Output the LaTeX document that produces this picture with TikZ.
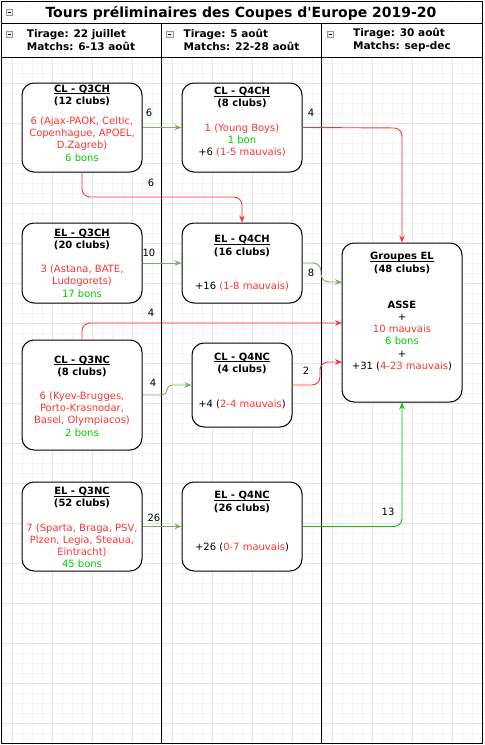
\documentclass[tikz,border=0pt]{standalone}
\usepackage{fontspec}
\setmainfont{DejaVu Sans}[Ligatures=TeXOff]
\usetikzlibrary{arrows.meta,calc}
\definecolor{rd}{HTML}{FF3333}
\definecolor{gn}{HTML}{00CC00}
\definecolor{olv}{HTML}{7FAE5E}
\definecolor{gridminor}{HTML}{F5F5F5}
\definecolor{gridmajor}{HTML}{E6E6E6}
\definecolor{icon}{HTML}{9A9A9A}
\newcommand\boxhead[1]{\setbox0\hbox{\bfseries #1}\rlap{\rule[-1.6pt]{\wd0}{0.7pt}}\box0}
\tikzset{
  box/.style={draw=black, line width=1pt, rounded corners=12pt, fill=white, inner sep=0pt},
  txt/.style={align=center, font=\fontsize{10}{12.2}\selectfont, inner sep=0pt},
  lab/.style={font=\fontsize{10}{11}\selectfont, inner sep=0pt},
  arr/.style={line width=0.9pt, -{Stealth[length=7pt,width=5.5pt]}, rounded corners=8pt},
  hdr/.style={align=left, font=\bfseries\fontsize{10.5}{13}\selectfont, inner sep=0pt},
  frame/.style={draw=black, line width=1pt},
}
\begin{document}
\begin{tikzpicture}[x=1pt,y=-1pt]
\useasboundingbox (0,0) rectangle (485,745);
\fill[white] (0,0) rectangle (485,745);
% grid
\foreach \x in {2,12,...,482} \draw[gridminor, line width=0.8pt] (\x,0) -- (\x,745);
\foreach \y in {3,13,...,743} \draw[gridminor, line width=0.8pt] (0,\y) -- (485,\y);
\foreach \x in {12,52,...,452} \draw[gridmajor, line width=0.8pt] (\x,0) -- (\x,745);
\foreach \y in {3,43,...,743} \draw[gridmajor, line width=0.8pt] (0,\y) -- (485,\y);
% header areas
\fill[white] (1.5,1.5) rectangle (482.5,57);
\draw[frame] (1.5,1.5) rectangle (482.5,743.5);
\draw[frame] (1.5,23) -- (482.5,23);
\draw[frame] (1.5,57) -- (482.5,57);
\draw[frame] (161.5,23) -- (161.5,743.5);
\draw[frame] (321.5,23) -- (321.5,743.5);
% collapse icons
\foreach \ix/\iy in {6/9, 6/31, 166.5/31, 327/31}{
  \draw[icon, fill=gray!12, line width=0.6pt] (\ix,\iy) rectangle ++(6.5,6.5);
  \draw[black, line width=0.8pt] (\ix+1.6,\iy+3.25) -- ++(3.3,0);
}
% title and headers
\node[font=\bfseries\fontsize{14}{16}\selectfont, inner sep=0pt] (title) at (241,13.5) {Tours préliminaires des Coupes d'Europe 2019-20};
\node[hdr] (h1) at (81,40) {Tirage: 22 juillet\\Matchs: 6-13 août};
\node[hdr] (h2) at (241.5,40) {Tirage: 5 août\\Matchs: 22-28 août};
\node[hdr] (h3) at (402,40) {Tirage: 30 août\\Matchs: sep-dec};
% boxes
\node[box, minimum width=120pt, minimum height=89pt] (clq3ch) at (82,127.5) {};
\node[box, minimum width=120pt, minimum height=89pt] (clq4ch) at (242,127.5) {};
\node[box, minimum width=120pt, minimum height=80pt] (elq3ch) at (82,263) {};
\node[box, minimum width=120pt, minimum height=80pt] (elq4ch) at (242,263) {};
\node[box, minimum width=120pt, minimum height=110pt] (clq3nc) at (82,395) {};
\node[box, minimum width=100pt, minimum height=84pt] (clq4nc) at (242,385) {};
\node[box, minimum width=120pt, minimum height=89pt] (elq3nc) at (82,526.5) {};
\node[box, minimum width=120pt, minimum height=89pt] (elq4nc) at (242,526.5) {};
\node[box, minimum width=120pt, minimum height=159pt] (grp) at (402,322.5) {};
% box texts
\node[txt] (t1) at (82,123) {\boxhead{CL - Q3CH}\\\textbf{(12 clubs)}\\[8pt]\textcolor{rd}{6 (Ajax-PAOK, Celtic,}\\\textcolor{rd}{Copenhague, APOEL,}\\\textcolor{rd}{D.Zagreb)}\\\textcolor{gn}{6 bons}};
\node[txt] (t2) at (242,122) {\boxhead{CL - Q4CH}\\\textbf{(8 clubs)}\\[12pt]\textcolor{rd}{1 (Young Boys)}\\\textcolor{gn}{1 bon}\\+6 \textcolor{rd}{(1-5 mauvais)}};
\node[txt] (t3) at (82,263) {\boxhead{EL - Q3CH}\\\textbf{(20 clubs)}\\[12pt]\textcolor{rd}{3 (Astana, BATE,}\\\textcolor{rd}{Ludogorets)}\\\textcolor{gn}{17 bons}};
\node[txt] (t4) at (242,263) {\boxhead{EL - Q4CH}\\\textbf{(16 clubs)}\\[22pt]+16 \textcolor{rd}{(1-8 mauvais)}};
\node[txt] (t5) at (82,396) {\boxhead{CL - Q3NC}\\\textbf{(8 clubs)}\\[12pt]\textcolor{rd}{6 (Kyev-Brugges,}\\\textcolor{rd}{Porto-Krasnodar,}\\\textcolor{rd}{Basel, Olympiacos)}\\\textcolor{gn}{2 bons}};
\node[txt] (t6) at (242,381) {\boxhead{CL - Q4NC}\\\textbf{(4 clubs)}\\[23pt]+4 (\textcolor{rd}{2-4 mauvais})};
\node[txt] (t7) at (82,527.5) {\boxhead{EL - Q3NC}\\\textbf{(52 clubs)}\\[12pt]\textcolor{rd}{7 (Sparta, Braga, PSV,}\\\textcolor{rd}{Plzen, Legia, Steaua,}\\\textcolor{rd}{Eintracht)}\\\textcolor{gn}{45 bons}};
\node[txt] (t8) at (242,521.5) {\boxhead{EL - Q4NC}\\\textbf{(26 clubs)}\\[27pt]+26 (\textcolor{rd}{0-7 mauvais})};
\node[txt] (t9) at (402,311.5) {\boxhead{Groupes EL}\\\textbf{(48 clubs)}\\[24pt]\textbf{ASSE}\\+\\\textcolor{rd}{10 mauvais}\\\textcolor{gn}{6 bons}\\+\\+31 (\textcolor{rd}{4-23 mauvais})};
% bend coordinates
\coordinate (b2a) at (82,197);
\coordinate (b2b) at (242,197);
\coordinate (b3) at (402,128);
\coordinate (b5a) at (321,263);
\coordinate (b5b) at (321,282);
\coordinate (in5) at (342,282);
\coordinate (b6) at (82,323);
\coordinate (in6) at (342,323);
\coordinate (b7a) at (167,395);
\coordinate (b7b) at (167,385);
\coordinate (b8a) at (320,385);
\coordinate (b8b) at (320,362);
\coordinate (in8) at (342,362);
\coordinate (b10) at (402,526.5);
% connectors
\draw[arr, olv] (clq3ch.east) -- (clq4ch.west);
\draw[arr, rd] (clq3ch.south) -- (b2a) -- (b2b) -- (elq4ch.north);
\draw[arr, rd] (clq4ch.east) -- (b3) -- (grp.north);
\draw[arr, olv] (elq3ch.east) -- (elq4ch.west);
\draw[arr, olv] (elq4ch.east) -- (b5a) -- (b5b) -- (in5);
\draw[arr, rd] (clq3nc.north) -- (b6) -- (in6);
\draw[arr, olv, rounded corners=5pt] (clq3nc.east) -- (b7a) -- (b7b) -- (clq4nc.west);
\draw[arr, rd] (clq4nc.east) -- (b8a) -- (b8b) -- (in8);
\draw[arr, olv] (elq3nc.east) -- (elq4nc.west);
\draw[arr, gn] (elq4nc.east) -- (b10) -- (grp.south);
% labels
\node[lab] (l1) at (149,113) {6};
\node[lab] (l2) at (151,183) {6};
\node[lab] (l3) at (311,113) {4};
\node[lab] (l4) at (149,253) {10};
\node[lab] (l5) at (311,273) {8};
\node[lab] (l6) at (151,313) {4};
\node[lab] (l7) at (153,383) {4};
\node[lab] (l8) at (306,371) {2};
\node[lab] (l9) at (154,518) {26};
\node[lab] (l10) at (388,512) {13};
\end{tikzpicture}
\end{document}
